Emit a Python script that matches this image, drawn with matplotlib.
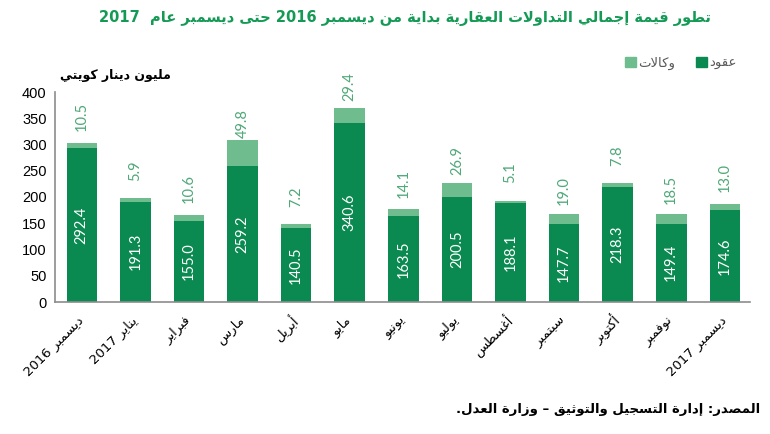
import re

import matplotlib
matplotlib.use("Agg")
import matplotlib.pyplot as plt
from matplotlib.patches import Patch

# chart data (million KWD)
months = ["ديسمبر 2016", "يناير 2017", "فبراير", "مارس", "أبريل", "مايو", "يونيو",
          "يوليو", "أغسطس", "سبتمبر", "أكتوبر", "نوفمبر", "ديسمبر 2017"]
contracts = [292.4, 191.3, 155.0, 259.2, 140.5, 340.6, 163.5, 200.5, 188.1, 147.7, 218.3, 149.4, 174.6]
agencies = [10.5, 5.9, 10.6, 49.8, 7.2, 29.4, 14.1, 26.9, 5.1, 19.0, 7.8, 18.5, 13.0]
yticks = [0, 50, 100, 150, 200, 250, 300, 350, 400]

title = "تطور قيمة إجمالي التداولات العقارية بداية من ديسمبر 2016 حتى ديسمبر عام  2017"
unit_label = "مليون دينار كويتي"
source = "المصدر: إدارة التسجيل والتوثيق – وزارة العدل."
name_contracts = "عقود"
name_agencies = "وكالات"

DARK = "#0a8a50"
LIGHT = "#6fbd8f"
LIGHT_TXT = "#4fa878"
AR_FONT = ["DejaVu Sans"]

# --- minimal arabic shaping (matplotlib has no complex text layout) ---
# letter -> (first presentation form, number of forms)
_AR = {
    0x0621: (0xFE80, 1), 0x0622: (0xFE81, 2), 0x0623: (0xFE83, 2), 0x0624: (0xFE85, 2),
    0x0625: (0xFE87, 2), 0x0626: (0xFE89, 4), 0x0627: (0xFE8D, 2), 0x0628: (0xFE8F, 4),
    0x0629: (0xFE93, 2), 0x062A: (0xFE95, 4), 0x062B: (0xFE99, 4), 0x062C: (0xFE9D, 4),
    0x062D: (0xFEA1, 4), 0x062E: (0xFEA5, 4), 0x062F: (0xFEA9, 2), 0x0630: (0xFEAB, 2),
    0x0631: (0xFEAD, 2), 0x0632: (0xFEAF, 2), 0x0633: (0xFEB1, 4), 0x0634: (0xFEB5, 4),
    0x0635: (0xFEB9, 4), 0x0636: (0xFEBD, 4), 0x0637: (0xFEC1, 4), 0x0638: (0xFEC5, 4),
    0x0639: (0xFEC9, 4), 0x063A: (0xFECD, 4), 0x0641: (0xFED1, 4), 0x0642: (0xFED5, 4),
    0x0643: (0xFED9, 4), 0x0644: (0xFEDD, 4), 0x0645: (0xFEE1, 4), 0x0646: (0xFEE5, 4),
    0x0647: (0xFEE9, 4), 0x0648: (0xFEED, 2), 0x0649: (0xFEEF, 2), 0x064A: (0xFEF1, 4),
}
_LAM_ALEF = {0x0622: 0xFEF5, 0x0623: 0xFEF7, 0x0625: 0xFEF9, 0x0627: 0xFEFB}


def ar(text):
    items = []
    i = 0
    while i < len(text):
        c = text[i]
        if ord(c) == 0x0644 and i + 1 < len(text) and ord(text[i + 1]) in _LAM_ALEF:
            items.append(("LA", _LAM_ALEF[ord(text[i + 1])]))
            i += 2
        else:
            items.append(("C", c))
            i += 1

    def joins_next(it):
        if it[0] == "LA":
            return False
        info = _AR.get(ord(it[1]))
        return info is not None and info[1] == 4

    def joins_prev(it):
        if it[0] == "LA":
            return True
        info = _AR.get(ord(it[1]))
        return info is not None and info[1] > 1

    out = []
    for k, it in enumerate(items):
        prev_j = k > 0 and joins_next(items[k - 1])
        next_j = k + 1 < len(items) and joins_prev(items[k + 1])
        if it[0] == "LA":
            out.append(chr(it[1] + (1 if prev_j else 0)))
            continue
        info = _AR.get(ord(it[1]))
        if info is None:
            out.append(it[1])
            continue
        base, n = info
        if n == 1:
            out.append(chr(base))
        elif n == 2:
            out.append(chr(base + (1 if prev_j else 0)))
        else:
            if prev_j and next_j:
                f = 3
            elif prev_j:
                f = 1
            elif next_j:
                f = 2
            else:
                f = 0
            out.append(chr(base + f))
    s = "".join(out)[::-1]
    # numbers stay left-to-right
    return re.sub(r"[0-9][0-9.,]*[0-9]|[0-9]", lambda m: m.group(0)[::-1], s)


fig = plt.figure(figsize=(7.7, 4.34), dpi=100)
ax = fig.add_axes([55 / 770, 1 - 302 / 434, 695 / 770, 210 / 434])

x = list(range(len(months)))
ax.bar(x, contracts, width=0.57, color=DARK, zorder=2)
ax.bar(x, agencies, width=0.57, bottom=contracts, color=LIGHT, zorder=2)

for xi, c, a in zip(x, contracts, agencies):
    ax.text(xi, c / 2, f"{c:.1f}", rotation=90, ha="center", va="center",
            color="white", fontsize=10.5, family="Lato")
    ax.annotate(f"{a:.1f}", xy=(xi, c + a / 2), xytext=(0, 21), textcoords="offset points",
                rotation=90, ha="center", va="center", color=LIGHT_TXT,
                fontsize=10.5, family="Lato", annotation_clip=False)

ax.set_xlim(-0.5, 12.47)
ax.set_ylim(0, 400)
ax.set_yticks(yticks)
ax.set_yticklabels([str(t) for t in yticks], family="Liberation Sans", fontsize=10.5)
ax.set_xticks(x)
ax.set_xticklabels([ar(m) for m in months], rotation=45, ha="right", va="center",
                   rotation_mode="anchor", family=AR_FONT, fontsize=9.5)
ax.tick_params(axis="both", length=0)
ax.tick_params(axis="x", pad=12)
ax.tick_params(axis="y", pad=6)
for side in ("top", "right"):
    ax.spines[side].set_visible(False)
for side in ("left", "bottom"):
    ax.spines[side].set_color("#8c8c8c")
    ax.spines[side].set_linewidth(1.2)

fig.text(405 / 770, 1 - 18 / 434, ar(title), ha="center", va="center",
         color="#149a55", fontsize=10.5, fontweight="bold", family=AR_FONT)
fig.text(60 / 770, 1 - 75 / 434, ar(unit_label), ha="left", va="center",
         color="black", fontsize=9, fontweight="bold", family=AR_FONT)
fig.text(760 / 770, 1 - 410 / 434, ar(source), ha="right", va="center",
         color="black", fontsize=9.5, fontweight="bold", family=AR_FONT)

handles = [Patch(color=LIGHT), Patch(color=DARK)]
fig.legend(handles, [ar(name_agencies), ar(name_contracts)], ncol=2, frameon=False,
           loc="center", bbox_to_anchor=(681 / 770, 1 - 63 / 434),
           prop={"family": AR_FONT, "size": 9.5}, labelcolor="#595959",
           handlelength=0.8, handleheight=0.8, handletextpad=0.2, columnspacing=1.6)

fig.savefig("out.png", dpi=100)
